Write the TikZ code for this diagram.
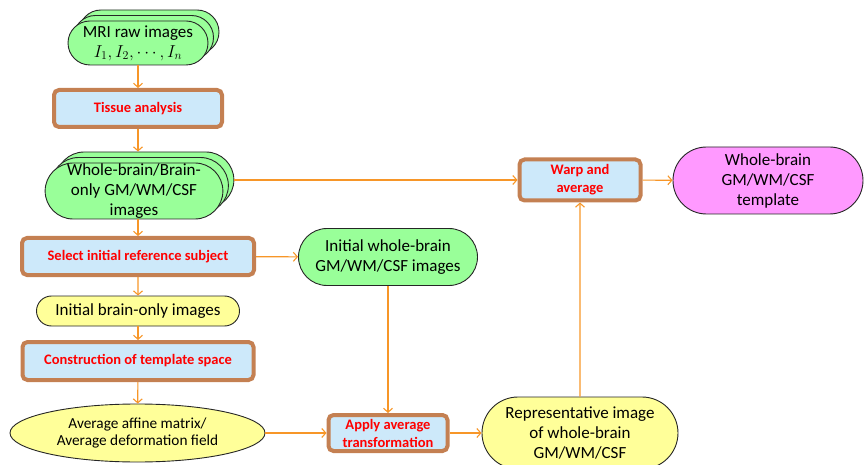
\documentclass[tikz,border=0pt]{standalone}
\usepackage{fontspec}
\setmainfont{Carlito}
\usetikzlibrary{arrows.meta, shapes.misc, shapes.geometric, shadows, calc, positioning}

\definecolor{termgreen}{RGB}{153,255,153}
\definecolor{termyellow}{RGB}{255,255,153}
\definecolor{termpink}{RGB}{255,153,255}
\definecolor{stepblue}{RGB}{205,233,250}
\definecolor{stepbrown}{RGB}{196,128,82}
\definecolor{flowline}{RGB}{247,150,40}

\tikzset{
  every node/.style={font=\fontsize{17}{20}\selectfont, align=center, inner sep=0pt},
  terminal/.style={rounded rectangle, draw=black!85, line width=0.9pt},
  imgstack/.style={terminal, fill=termgreen,
    copy shadow={shadow xshift=11pt, shadow yshift=11pt},
    copy shadow={shadow xshift=5.5pt, shadow yshift=5.5pt}},
  process/.style={rectangle, rounded corners=5pt, draw=stepbrown, line width=4pt,
    fill=stepblue, text=red, outer sep=2pt, font=\fontsize{14.5}{18}\selectfont\bfseries},
  flow/.style={draw=flowline, line width=1.1pt, -{Straight Barb[length=4pt,width=9pt]}},
}

\begin{document}
\begin{tikzpicture}[x=1pt, y=-1pt]
  \useasboundingbox (0,0) rectangle (865,465);

  % left column
  \node[imgstack, minimum width=140, minimum height=44] (mri) at (138,43)
    {MRI raw images\\$I_1, I_2, \cdots, I_n$};
  \node[process, minimum width=168, minimum height=37] (tissue) at (138,108.5) {Tissue analysis};
  \node[imgstack, minimum width=177, minimum height=56] (whole) at (134,191)
    {Whole-brain/Brain-\\only GM/WM/CSF\\images};
  \node[process, minimum width=232, minimum height=37] (select) at (138,256.5) {Select initial reference subject};
  \node[terminal, fill=termyellow, minimum width=203, minimum height=30] (brainonly) at (138,311)
    {Initial brain-only images};
  \node[process, minimum width=231, minimum height=38] (construct) at (138,361) {Construction of template space};
  \node[ellipse, draw=black!85, line width=0.9pt, fill=termyellow, minimum width=255, minimum height=58,
    font=\fontsize{15.3}{17}\selectfont] (avg) at (137.5,433)
    {Average affine matrix/\\Average deformation field};

  % middle and right
  \node[terminal, fill=termgreen, minimum width=179, minimum height=57] (initwhole) at (388,257)
    {Initial whole-brain\\GM/WM/CSF images};
  \node[process, minimum width=119, minimum height=36] (apply) at (388,433) {Apply average\\transformation};
  \node[terminal, fill=termyellow, minimum width=196, minimum height=72] (rep) at (580,433)
    {Representative image\\of whole-brain\\GM/WM/CSF};
  \node[process, minimum width=121, minimum height=41] (warp) at (580,180) {Warp and\\average};
  \node[terminal, fill=termpink, minimum width=190, minimum height=67] (template) at (768,180.5)
    {Whole-brain\\GM/WM/CSF\\template};

  % connectors
  \draw[flow] (mri) -- (tissue);
  \draw[flow] (tissue) -- ($(tissue |- whole.north)+(0,-11)$);
  \draw[flow] ($(whole.east)+(11,-11)$) -- (warp);
  \draw[flow] (select |- whole.south) -- (select);
  \draw[flow] (select) -- (initwhole);
  \draw[flow] (select) -- (brainonly);
  \draw[flow] (brainonly) -- (construct);
  \draw[flow] (construct) -- (avg);
  \draw[flow] (avg) -- (apply);
  \draw[flow] (initwhole) -- (apply);
  \draw[flow] (apply) -- (rep);
  \draw[flow] (rep) -- (warp);
  \draw[flow] (warp) -- (template);
\end{tikzpicture}
\end{document}
